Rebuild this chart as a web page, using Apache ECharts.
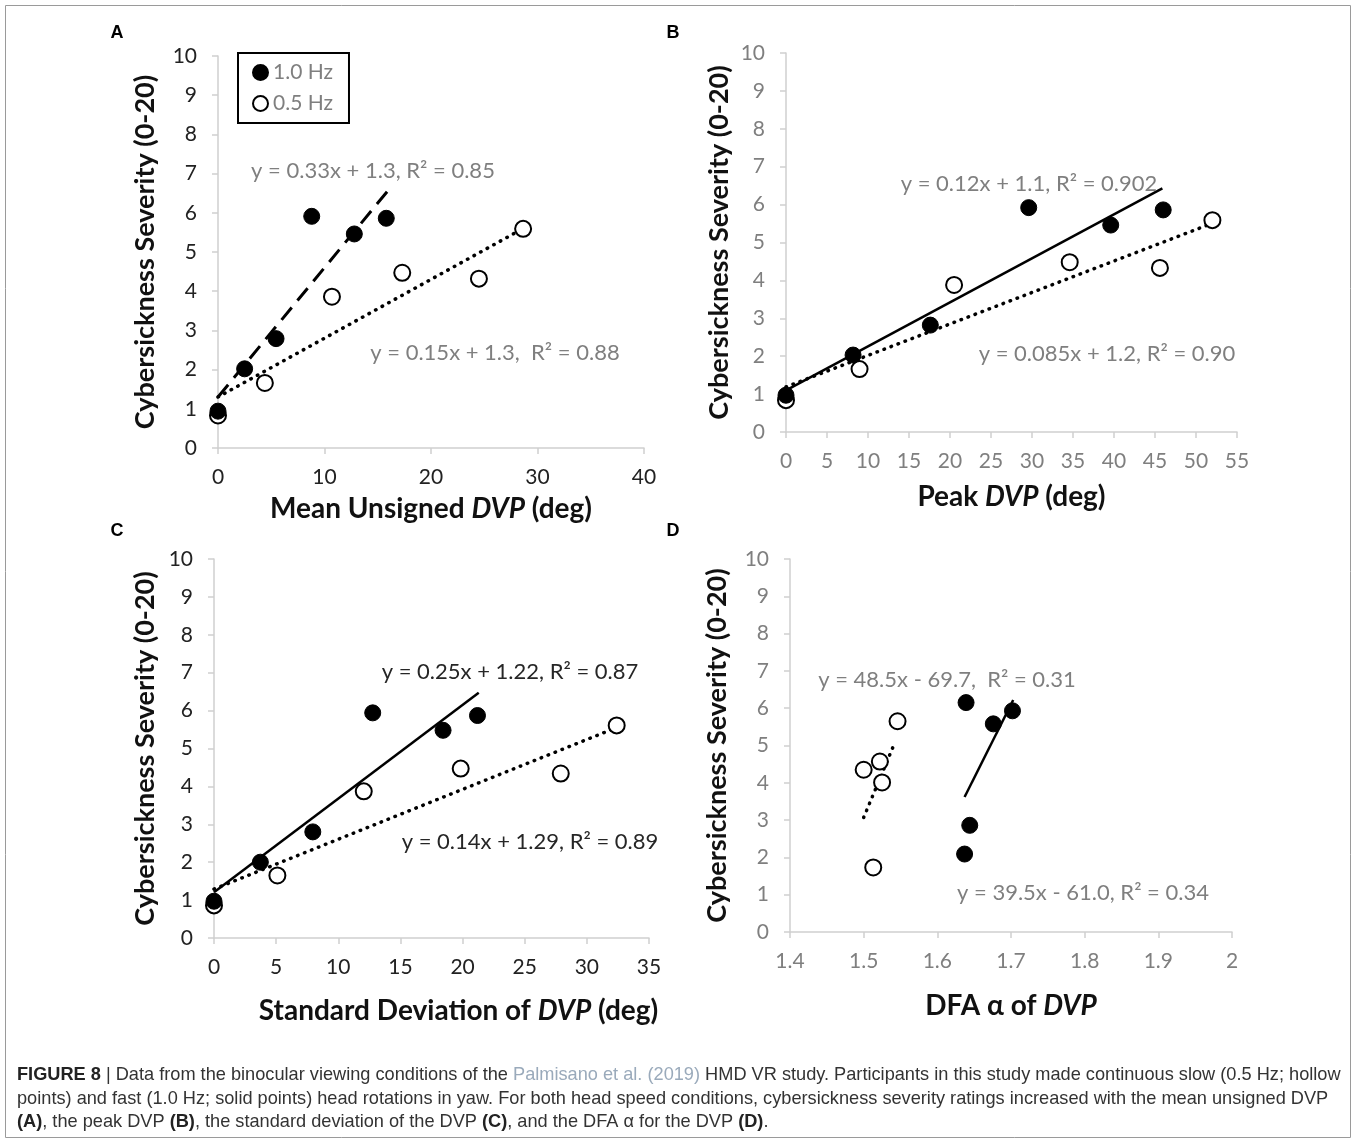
<!DOCTYPE html>
<html>
<head>
<meta charset="utf-8">
<script src="https://cdn.jsdelivr.net/npm/echarts@6/dist/echarts.min.js"></script>
<style>
html,body{margin:0;padding:0;background:#fff;}
#main{width:1357px;height:1143px;}
</style>
</head>
<body>
<div id="main"></div>
<script>
// ---------- DATA ----------
// Panel A: Mean unsigned DVP (deg)
const aFast = [[0,0.94],[2.5,2.02],[5.45,2.79],[8.8,5.91],[12.8,5.46],[15.8,5.86]];
const aSlow = [[0,0.83],[4.4,1.66],[10.7,3.86],[17.3,4.47],[24.5,4.32],[28.65,5.59]];
const aFastTrend = [[0,1.3],[16,6.58]];
const aSlowTrend = [[0,1.3],[28.65,5.6]];
// Panel B: Peak DVP (deg)
const bFast = [[0,0.97],[8.18,2.03],[17.6,2.82],[29.6,5.92],[39.6,5.46],[46.0,5.86]];
const bSlow = [[0,0.84],[8.97,1.66],[20.5,3.88],[34.6,4.48],[45.6,4.33],[52.0,5.59]];
const bFastTrend = [[0,1.1],[45.9,6.43]];
const bSlowTrend = [[0,1.19],[51.9,5.5]];
// Panel C: SD of DVP (deg)
const cFast = [[0,0.97],[3.73,2.0],[7.95,2.8],[12.77,5.94],[18.43,5.48],[21.2,5.87]];
const cSlow = [[0,0.86],[5.1,1.65],[12.05,3.87],[19.85,4.47],[27.9,4.34],[32.4,5.61]];
const cFastTrend = [[0,1.21],[21.3,6.47]];
const cSlowTrend = [[0,1.29],[32.3,5.54]];
// Panel D: DFA alpha of DVP
const dFast = [[1.639,6.15],[1.676,5.58],[1.702,5.93],[1.644,2.86],[1.637,2.09]];
const dSlow = [[1.5,4.35],[1.522,4.57],[1.525,4.01],[1.546,5.65],[1.513,1.73]];
const dFastTrend = [[1.637,3.62],[1.703,6.22]];
const dSlowTrend = [[1.5,3.07],[1.543,5.11]];

const seriesNames = ['1.0 Hz','0.5 Hz'];
const panelLetters = ['A','B','C','D'];
const yTitle = 'Cybersickness Severity (0-20)';
const xTitles = ['Mean Unsigned {i|DVP} (deg)','Peak {i|DVP} (deg)','Standard Deviation of {i|DVP} (deg)','DFA α of {i|DVP}'];
const eqText = [
  ['y = 0.33x + 1.3, R² = 0.85','y = 0.15x + 1.3,  R² = 0.88'],
  ['y = 0.12x + 1.1, R² = 0.902','y = 0.085x + 1.2, R² = 0.90'],
  ['y = 0.25x + 1.22, R² = 0.87','y = 0.14x + 1.29, R² = 0.89'],
  ['y = 48.5x - 69.7,  R² = 0.31','y = 39.5x - 61.0, R² = 0.34']
];
const xRanges = [[0,40,10],[0,55,5],[0,35,5],[1.4,2,0.1]];
const yRange = [0,10,1];

// ---------- LAYOUT ----------
const FONT = 'Lato';
const grids = [
  {left:218, top:56, width:426, height:392},
  {left:786, top:53, width:451, height:379},
  {left:214, top:559, width:435, height:379},
  {left:790, top:559, width:442, height:373}
];
const labelColors = ['#222','#7f7f7f','#222','#7f7f7f'];
const eqColors = ['#7f7f7f','#7f7f7f','#262626','#7f7f7f'];
const yNameGap = [59,53,55,59];
const xNameGap = [47,51,59,60];
const xNamePad = [[0,0,0,0],[0,0,0,0],[0,0,0,54],[0,0,0,0]];
const TITLE_SIZE = 28;
const YTITLE_SIZE = 27;

const axisLineStyle = {color:'#cfcfcf', width:1.5};
const xAxes = [], yAxes = [];
for (let i=0;i<4;i++){
  const r = xRanges[i];
  xAxes.push({
    gridIndex:i, type:'value', min:r[0], max:r[1], interval:r[2],
    axisLine:{show:true, lineStyle:axisLineStyle},
    axisTick:{show:true, length:6, lineStyle:axisLineStyle},
    splitLine:{show:false},
    axisLabel:{color:labelColors[i], fontSize:21, fontFamily:FONT, margin:19,
      formatter: (v)=> (i===3 ? String(+v.toFixed(1)) : String(Math.round(v)))},
    name: xTitles[i], nameLocation:'middle', nameGap:xNameGap[i],
    nameTextStyle:{fontSize:TITLE_SIZE, fontWeight:'bold', fontFamily:FONT, color:'#111', padding:xNamePad[i],
      rich:{i:{fontSize:TITLE_SIZE, fontWeight:'bold', fontStyle:'italic', fontFamily:FONT, color:'#111'}}}
  });
  yAxes.push({
    gridIndex:i, type:'value', min:yRange[0], max:yRange[1], interval:yRange[2],
    axisLine:{show:true, lineStyle:axisLineStyle},
    axisTick:{show:true, length:6, lineStyle:axisLineStyle},
    splitLine:{show:false},
    axisLabel:{color:labelColors[i], fontSize:21, fontFamily:FONT, margin:21},
    name: yTitle, nameLocation:'middle', nameGap:yNameGap[i], nameRotate:90,
    nameTextStyle:{fontSize:YTITLE_SIZE, fontWeight:'bold', fontFamily:FONT, color:'#111'}
  });
}

const fastData = [aFast,bFast,cFast,dFast];
const slowData = [aSlow,bSlow,cSlow,dSlow];
const fastTrend = [aFastTrend,bFastTrend,cFastTrend,dFastTrend];
const slowTrend = [aSlowTrend,bSlowTrend,cSlowTrend,dSlowTrend];
const fastLineType = [[16,9],'solid','solid','solid'];
const dotted = [0.5,7];

const series = [];
for (let i=0;i<4;i++){
  series.push({
    type:'line', xAxisIndex:i, yAxisIndex:i, data:fastTrend[i], symbol:'none', silent:true, z:2,
    lineStyle:{color:'#000', width: i===0?3:2.5, type:fastLineType[i], cap:'butt'}
  });
  series.push({
    type:'line', xAxisIndex:i, yAxisIndex:i, data:slowTrend[i], symbol:'none', silent:true, z:2,
    lineStyle:{color:'#000', width:3.5, type:dotted, cap:'round'}
  });
  series.push({
    name:seriesNames[1], type:'scatter', xAxisIndex:i, yAxisIndex:i, data:slowData[i],
    symbol:'circle', symbolSize:16, z:3,
    itemStyle:{color:'#fff', borderColor:'#000', borderWidth:2, opacity:1}
  });
  series.push({
    name:seriesNames[0], type:'scatter', xAxisIndex:i, yAxisIndex:i, data:fastData[i],
    symbol:'circle', symbolSize:16, z:4,
    itemStyle:{color:'#000', borderColor:'#000', borderWidth:1, opacity:1}
  });
}

// ---------- GRAPHICS (labels, captions) ----------
const eqPos = [
  [[373,171],[495,353]],
  [[1029,184],[1107,354]],
  [[510,672],[530,842]],
  [[947,680],[1083,893]]
];
const letterPos = [[117,33],[673,33],[117,531],[673,531]];
const graphic = [];
graphic.push({type:'rect', shape:{x:5.5,y:5.5,width:1345,height:1132}, style:{fill:'none', stroke:'#9a9a9a', lineWidth:1}, silent:true, z:0});
for (let i=0;i<4;i++){
  graphic.push({type:'text', x:letterPos[i][0], y:letterPos[i][1], style:{text:panelLetters[i], font:'bold 18px "Liberation Sans", Arial', fill:'#000', textAlign:'center', textVerticalAlign:'middle'}});
  for (let k=0;k<2;k++){
    graphic.push({type:'text', x:eqPos[i][k][0], y:eqPos[i][k][1], z:10,
      style:{text:eqText[i][k], fontSize:22, fontFamily:FONT, fill:eqColors[i], textAlign:'center', textVerticalAlign:'middle'}});
  }
}
const capLines = [
  '{b|FIGURE 8} | Data from the binocular viewing conditions of the {l|Palmisano et al. (2019)} HMD VR study. Participants in this study made continuous slow (0.5 Hz; hollow',
  'points) and fast (1.0 Hz; solid points) head rotations in yaw. For both head speed conditions, cybersickness severity ratings increased with the mean unsigned DVP',
  '{b|(A)}, the peak DVP {b|(B)}, the standard deviation of the DVP {b|(C)}, and the DFA α for the DVP {b|(D)}.'
];
const capY = [1075,1099,1122];
const capFont = '"Liberation Sans", Arial';
const CAP_SIZE = 18.2;
for (let j=0;j<3;j++){
  graphic.push({type:'text', x:17, y:capY[j],
    style:{text:capLines[j], fontSize:CAP_SIZE, fontFamily:capFont, fill:'#333', textVerticalAlign:'middle',
      rich:{b:{fontWeight:'bold', fontSize:CAP_SIZE, fontFamily:capFont, fill:'#222'},
            l:{fontSize:CAP_SIZE, fontFamily:capFont, fill:'#9aaabb'}}}});
}

const option = {
  animation:false,
  backgroundColor:'#fff',
  textStyle:{fontFamily:FONT},
  grid: grids,
  xAxis: xAxes,
  yAxis: yAxes,
  legend:{
    data:seriesNames, orient:'vertical', left:238, top:53,
    icon:'circle', itemWidth:15, itemHeight:15, itemGap:10,
    padding:[9,16,9,14], borderColor:'#000', borderWidth:2,
    textStyle:{color:'#7f7f7f', fontSize:21, fontFamily:FONT},
    selectedMode:false
  },
  series: series,
  graphic: graphic
};
const chart = echarts.init(document.getElementById('main'), null, {renderer:'canvas'});
chart.setOption(option);
</script>
</body>
</html>
